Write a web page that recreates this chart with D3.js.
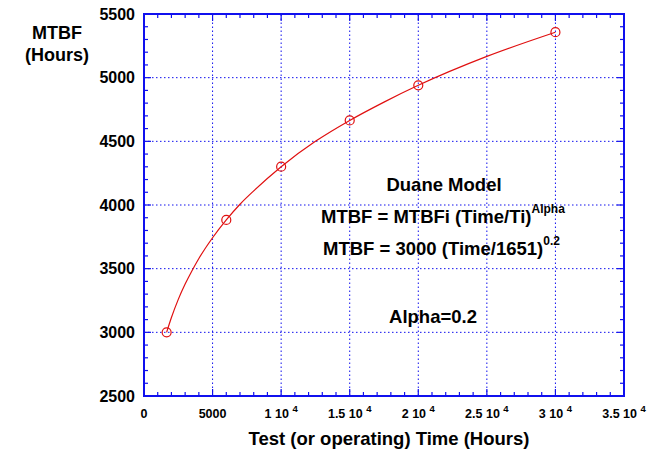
<!DOCTYPE html>
<html><head><meta charset="utf-8">
<script src="https://cdn.jsdelivr.net/npm/d3@7"></script>
<style>
body{margin:0;background:#fff;}
text{font-family:"Liberation Sans",Arial,Helvetica,sans-serif;font-weight:bold;fill:#000;}
</style></head>
<body>
<svg id="chart" width="658" height="453"></svg>
<script>
// Data: measured points (circles)
const testTime = [1651, 6000, 10000, 15000, 20000, 30000];
const mtbf = [3000, 3883, 4301, 4664, 4940, 5357];
// Fitted curve
const curveTime = [1651, 2000, 2500, 3000, 3500, 4000, 5000, 6000, 7000, 8000, 10000, 12500, 15000, 17500, 20000, 25000, 30000];
const curveMtbf = [3000, 3116, 3259, 3379, 3484, 3580, 3743, 3883, 4006, 4111, 4301, 4500, 4664, 4808, 4940, 5167, 5357];
const xTickValues = [0, 5000, 10000, 15000, 20000, 25000, 30000, 35000];
const xTickMantissa = ["0", "5000", "1 10", "1.5 10", "2 10", "2.5 10", "3 10", "3.5 10"];
const xTickExponent = ["", "", "4", "4", "4", "4", "4", "4"];
const yTickValues = [2500, 3000, 3500, 4000, 4500, 5000, 5500];

const svg = d3.select("#chart");
const x = d3.scaleLinear().domain([0, 35000]).range([144, 624]);
const y = d3.scaleLinear().domain([2500, 5500]).range([396, 14]);
const blue = "#1010ee";

// grid
const g = svg.append("g");
g.selectAll(".vg").data(xTickValues.slice(1, -1)).enter().append("line")
  .attr("x1", d => x(d)).attr("x2", d => x(d)).attr("y1", y(2500)).attr("y2", y(5500))
  .attr("stroke", blue).attr("stroke-width", 1).attr("stroke-dasharray", "1.5,2.5");
g.selectAll(".hg").data(yTickValues.slice(1, -1)).enter().append("line")
  .attr("y1", d => y(d)).attr("y2", d => y(d)).attr("x1", x(0)).attr("x2", x(35000))
  .attr("stroke", blue).attr("stroke-width", 1).attr("stroke-dasharray", "1.5,2.5");

// ticks (inward, all four sides)
const xMinor = d3.range(0, 35001, 1000);
const yMinor = d3.range(2500, 5501, 100);
const tk = svg.append("g").attr("stroke", blue).attr("stroke-width", 1.2);
xMinor.forEach(v => {
  const L = v % 5000 === 0 ? 7 : 4;
  tk.append("line").attr("x1", x(v)).attr("x2", x(v)).attr("y1", y(2500)).attr("y2", y(2500) - L);
  tk.append("line").attr("x1", x(v)).attr("x2", x(v)).attr("y1", y(5500)).attr("y2", y(5500) + L);
});
yMinor.forEach(v => {
  const L = v % 500 === 0 ? 7 : 4;
  tk.append("line").attr("y1", y(v)).attr("y2", y(v)).attr("x1", x(0)).attr("x2", x(0) + L);
  tk.append("line").attr("y1", y(v)).attr("y2", y(v)).attr("x1", x(35000)).attr("x2", x(35000) - L);
});

// frame
svg.append("rect").attr("x", x(0)).attr("y", y(5500))
  .attr("width", x(35000) - x(0)).attr("height", y(2500) - y(5500))
  .attr("fill", "none").attr("stroke", blue).attr("stroke-width", 2);

// y tick labels
svg.selectAll(".yl").data(yTickValues).enter().append("text")
  .attr("x", 135).attr("y", d => y(d)).attr("dy", "0.36em")
  .attr("text-anchor", "end").attr("font-size", 16).text(d => d);

// x tick labels
xTickValues.forEach((v, i) => {
  const t = svg.append("text").attr("x", x(v)).attr("y", 418)
    .attr("text-anchor", "middle").attr("font-size", 12.5);
  t.append("tspan").text(xTickMantissa[i]);
  if (xTickExponent[i]) {
    t.append("tspan").text(" ");
    t.append("tspan").attr("font-size", 9.5).attr("dy", -6).text(xTickExponent[i]);
  }
});

// axis titles
svg.append("text").attr("x", 57).attr("y", 39).attr("text-anchor", "middle").attr("font-size", 18).text("MTBF");
svg.append("text").attr("x", 57).attr("y", 61).attr("text-anchor", "middle").attr("font-size", 18).text("(Hours)");
svg.append("text").attr("x", 389).attr("y", 445).attr("text-anchor", "middle").attr("font-size", 18.5).text("Test (or operating) Time (Hours)");

// curve
const line = d3.line().x((d, i) => x(curveTime[i])).y(d => y(d)).curve(d3.curveMonotoneX);
svg.append("path").datum(curveMtbf).attr("d", line).attr("fill", "none").attr("stroke", "#e01010").attr("stroke-width", 1.2);
svg.selectAll(".pt").data(mtbf).enter().append("circle")
  .attr("cx", (d, i) => x(testTime[i])).attr("cy", d => y(d)).attr("r", 4.5)
  .attr("fill", "none").attr("stroke", "#e01010").attr("stroke-width", 1.2);

// annotations
svg.append("text").attr("x", 444).attr("y", 191).attr("text-anchor", "middle").attr("font-size", 18.5).text("Duane Model");
const e1 = svg.append("text").attr("x", 321).attr("y", 223).attr("font-size", 18.5);
e1.append("tspan").text("MTBF = MTBFi (Time/Ti)");
e1.append("tspan").attr("font-size", 12).attr("dy", -10).text("Alpha");
const e2 = svg.append("text").attr("x", 323).attr("y", 255).attr("font-size", 18.5);
e2.append("tspan").text("MTBF = 3000 (Time/1651)");
e2.append("tspan").attr("font-size", 12).attr("dy", -10).text("0.2");
svg.append("text").attr("x", 433).attr("y", 323).attr("text-anchor", "middle").attr("font-size", 18.5).text("Alpha=0.2");
</script>
</body></html>
